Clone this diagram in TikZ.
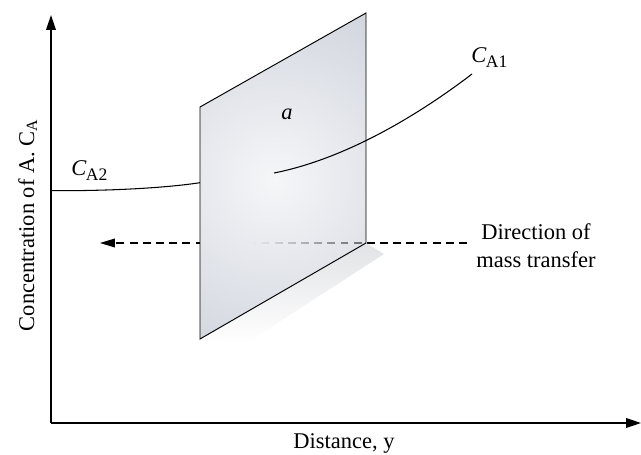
\documentclass[tikz,border=0pt]{standalone}
\usepackage{fontspec}
\setmainfont{Liberation Serif}
\usetikzlibrary{arrows.meta,positioning,fadings}

\definecolor{plateLight}{RGB}{245,246,248}
\definecolor{plateDark}{RGB}{186,192,205}
\definecolor{shadowGray}{RGB}{226,227,230}

% italic C with an upright subscript
\newcommand{\concsym}[1]{\textit{C}\kern-0.03em\raisebox{-0.45ex}{\fontsize{10}{10}\selectfont #1}}

\begin{document}
\begin{tikzpicture}[
    x=0.02cm, y=-0.02cm,
    % --- Styles ---
    axis line/.style={line width=0.75pt, -{Triangle[length=8.5pt,width=5.5pt]}},
    profile line/.style={line width=0.6pt},
    plate edge/.style={line width=0.55pt, line join=miter},
    % dashed arrow for the flux
    flow line/.style={line width=0.6pt, dash pattern=on 4.5pt off 3pt},
    label text/.style={font=\fontsize{12.8}{16}\selectfont, inner sep=0pt}
]
\useasboundingbox (0,0) rectangle (641,455);

%================AXES================
\coordinate (O) at (51,423);
\coordinate (ytip) at (51,15);
\coordinate (xtip) at (641,423);
\draw[axis line] (O) -- (ytip);
\draw[axis line] (O) -- (xtip);

%================INTERFACE PLATE================
\coordinate (pTL) at (200,107);
\coordinate (pTR) at (366,13);
\coordinate (pBR) at (366,243);
\coordinate (pBL) at (200,339);

% flux arrow, partly hidden by the plate
\coordinate (flowStart) at (467,243);
\coordinate (flowEnd) at (100,243);
\draw[flow line, -{Triangle[length=8.5pt,width=5pt]}] (flowStart) -- (flowEnd);

% soft shadow below the plate
\shade[top color=shadowGray, bottom color=white] (pBL) -- (pBR) -- (384,254) -- (245,344) -- cycle;

\begin{scope}
    \clip (pTL) -- (pTR) -- (pBR) -- (pBL) -- cycle;
    \shade[inner color=plateLight, outer color=plateDark] (-35,-130) rectangle (585,490);
    % dashes seen through the plate
    \draw[flow line, path fading=west] (flowStart) -- (252,243);
\end{scope}
\draw[plate edge] (pTL) -- (pTR) -- (pBR) -- (pBL) -- cycle;

%================PROFILES================
\coordinate (leftBulk) at (51,190.7);
\coordinate (leftFace) at (200,182.7);
\draw[profile line] (leftBulk) .. controls (110,191) and (165,188) .. (leftFace);

\coordinate (innerStart) at (274,173);
\coordinate (rightBulk) at (472,74);
\draw[profile line] (innerStart) .. controls (350,158) and (425,110) .. (rightBulk);

%================LABELS================
\node[label text, anchor=base west] (cA2) at (71,176) {\concsym{A2}};
\node[label text, anchor=base west] (cA1) at (471,63) {\concsym{A1}};
\node[label text, anchor=base] (area) at (287,120) {\textit{a}};
\node[label text, align=center] (flowLabel) at (536,246) {Direction of\\mass transfer};
\node[label text, anchor=base] (xLabel) at (344,448) {Distance, y};
\node[label text, rotate=90, anchor=base] (yLabel) at (34,225) {Concentration of A. C\textsubscript{A}};

\end{tikzpicture}
\end{document}
